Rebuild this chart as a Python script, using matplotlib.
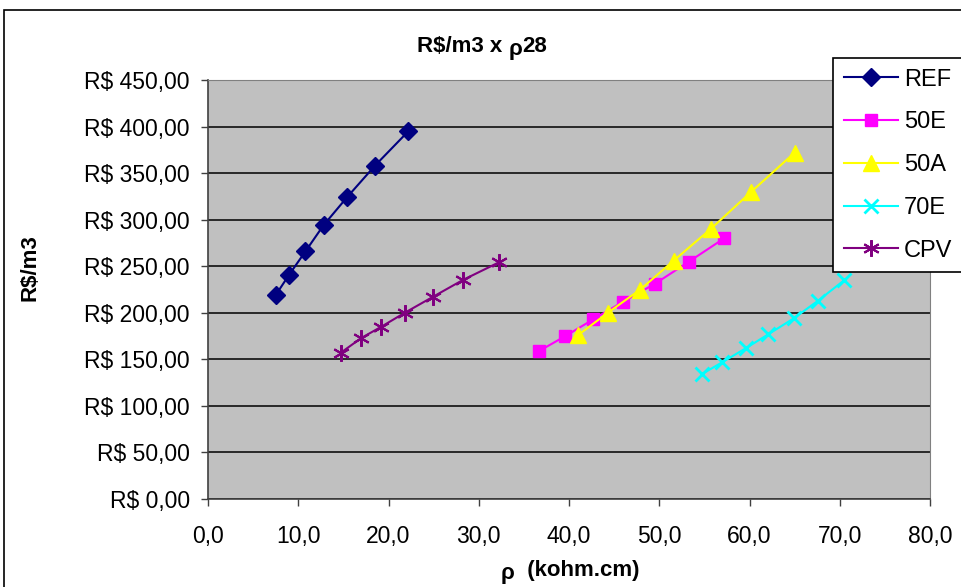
import matplotlib
matplotlib.use("Agg")
from matplotlib import pyplot as plt
from matplotlib.patches import Rectangle
from matplotlib.ticker import FuncFormatter, MultipleLocator

plt.rcParams['font.family'] = ['Liberation Sans', 'DejaVu Sans']

ref_x = [7.5, 9.0, 10.8, 12.8, 15.4, 18.5, 22.2]
ref_y = [219, 241, 266, 294, 324, 358, 395]

e50_x = [36.7, 39.6, 42.7, 46.0, 49.5, 53.3, 57.2]
e50_y = [159, 175, 193, 212, 231, 255, 280]

a50_x = [41.0, 44.3, 47.9, 51.6, 55.7, 60.2, 65.0]
a50_y = [176, 200, 225, 256, 290, 330, 372]

e70_x = [54.7, 57.0, 59.6, 62.1, 64.9, 67.6, 70.5]
e70_y = [134, 147, 162, 177, 194, 213, 235]

cpv_x = [14.7, 17.0, 19.2, 21.8, 24.9, 28.2, 32.2]
cpv_y = [157, 173, 185, 200, 217, 235, 254]

W, H = 961, 587
fig = plt.figure(figsize=(W / 100, H / 100), dpi=100)
fig.patch.set_facecolor('white')
# outer chart border
fig.patches.append(Rectangle((4 / W, -0.01), 1.0, 1 - 10 / H + 0.01, transform=fig.transFigure,
                             fill=False, edgecolor='black', linewidth=1.2))

ax = fig.add_axes([208 / W, 1 - 499 / H, (930 - 208) / W, (499 - 80) / H])
ax.set_facecolor('#C0C0C0')

ax.plot(ref_x, ref_y, color='#000080', marker='D', markersize=9.5, lw=1.5, label='REF')
ax.plot(e50_x, e50_y, color='#FF00FF', marker='s', markersize=9, lw=1.5, label='50E')
ax.plot(a50_x, a50_y, color='#FFFF00', marker='^', markersize=11, lw=1.5, label='50A')
ax.plot(e70_x, e70_y, color='#00FFFF', marker='x', markersize=10, mew=2, lw=1.5, label='70E')
ax.plot(cpv_x, cpv_y, color='#800080', marker=(6, 2, 0), markersize=12, mew=1.5, lw=1.5, label='CPV')

ax.set_xlim(0, 80)
ax.set_ylim(0, 450)
ax.xaxis.set_major_locator(MultipleLocator(10))
ax.yaxis.set_major_locator(MultipleLocator(50))
ax.xaxis.set_major_formatter(FuncFormatter(lambda v, p: f"{v:.1f}".replace('.', ',')))
ax.yaxis.set_major_formatter(FuncFormatter(lambda v, p: f"R$ {v:.2f}".replace('.', ',')))
ax.grid(axis='y', color='black', lw=1.1)
ax.set_axisbelow(True)
ax.tick_params(labelsize=16.5, direction='out', length=5, width=1, color='#404040')
ax.tick_params(axis='x', pad=14)
ax.tick_params(axis='y', pad=8)
for side in ['top', 'right']:
    ax.spines[side].set_color('#808080')
for side in ['left', 'bottom']:
    ax.spines[side].set_color('#404040')
    ax.spines[side].set_linewidth(1.2)

fig.text(30 / W, 1 - 268 / H, 'R$/m3', fontsize=16, fontweight='bold', rotation=90,
         ha='center', va='center')

renderer = fig.canvas.get_renderer()


def rho_text(parts, x_center, y_base, size):
    # rho written a bit lower than the rest, like the Symbol font in the original
    texts = []
    for s, dy in parts:
        t = fig.text(0, 0, s, fontsize=size, fontweight='bold', ha='left', va='baseline')
        texts.append((t, dy))
    widths = [t.get_window_extent(renderer).width for t, _ in texts]
    x = x_center - sum(widths) / 2
    for (t, dy), w in zip(texts, widths):
        t.set_position((x / W, 1 - (y_base + dy) / H))
        x += w


rho_text([('R$/m3 x ', 0), ('ρ', 3), ('28', 0)], 482, 52, 16)
rho_text([('ρ', 3), ('  (kohm.cm)', 0)], 570, 576, 16)

leg = ax.legend(loc='upper left', bbox_to_anchor=(833 / W, 1 - 58 / H), bbox_transform=fig.transFigure,
                fontsize=17, frameon=True, fancybox=False, borderpad=0.45, labelspacing=0.88,
                handlelength=2.3, handletextpad=0.25, borderaxespad=0)
leg.get_frame().set_edgecolor('black')
leg.get_frame().set_linewidth(1.2)
leg.get_frame().set_facecolor('white')
leg.get_frame().set_alpha(1)

fig.savefig('out.png', dpi=100)
